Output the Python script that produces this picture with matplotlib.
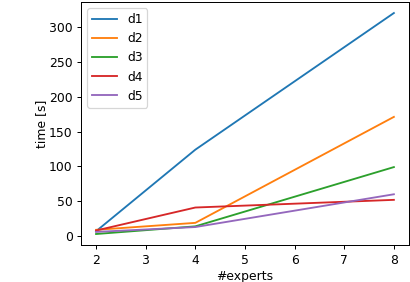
import numpy as np
import matplotlib
matplotlib.use('Agg')
import matplotlib.pyplot as plt

experts = [2, 4, 8]
d1 = [7, 124, 320]
d2 = [9, 19, 171]
d3 = [3, 14, 99]
d4 = [8, 41, 52]
d5 = [6, 13, 60]

dpi = 89
fig = plt.figure(figsize=(410 / dpi, 282 / dpi), dpi=dpi)
ax = fig.add_axes([0.198, 0.131, 0.799, 0.862])

for name, vals in [('d1', d1), ('d2', d2), ('d3', d3), ('d4', d4), ('d5', d5)]:
    ax.plot(experts, vals, label=name)

ax.set_xlabel('#experts', labelpad=2.5)
ax.set_ylabel('time [s]', labelpad=1)
ax.set_xticks([2, 3, 4, 5, 6, 7, 8])
ax.legend(loc='upper left')

fig.savefig('out.png', dpi=dpi)
